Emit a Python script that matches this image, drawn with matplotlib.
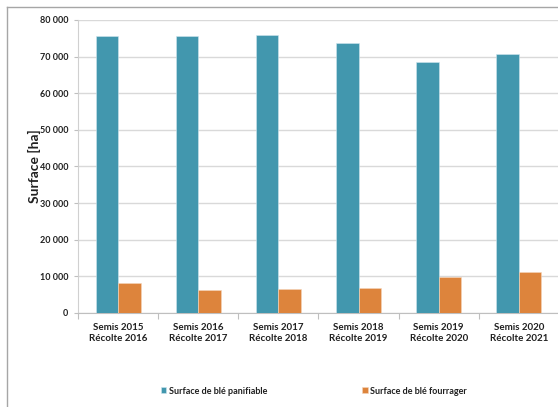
import matplotlib
matplotlib.use("Agg")
import matplotlib.pyplot as plt
from matplotlib.lines import Line2D
from matplotlib.ticker import FuncFormatter, MultipleLocator, FixedLocator
import numpy as np

categories = ["Semis 2015\nRécolte 2016", "Semis 2016\nRécolte 2017", "Semis 2017\nRécolte 2018",
              "Semis 2018\nRécolte 2019", "Semis 2019\nRécolte 2020", "Semis 2020\nRécolte 2021"]
panifiable = [75500, 75700, 76000, 73700, 68600, 70800]
fourrager = [8300, 6400, 6600, 6700, 9700, 11100]
series_names = ["Surface de blé panifiable", "Surface de blé fourrager"]
ylabel = "Surface [ha]"

plt.rcParams['font.family'] = ['Lato', 'DejaVu Sans']

W, H = 558, 407
fig = plt.figure(figsize=(W / 100, H / 100), dpi=100)
ax = fig.add_axes([78 / W, 1 - 313 / H, 481 / W, (313 - 20) / H])

x = np.arange(len(categories))
bw = 0.28
blue = "#4297AE"
orange = "#DD843C"
ax.bar(x - bw / 2, panifiable, bw, color=blue, edgecolor="#cfe6ee", linewidth=0.4, label=series_names[0], zorder=3)
ax.bar(x + bw / 2, fourrager, bw, color=orange, edgecolor="#f5d6bc", linewidth=0.4, label=series_names[1], zorder=3)

ax.set_xlim(-0.5, len(categories) - 0.5)
ax.set_ylim(0, 80000)
ax.yaxis.set_major_locator(MultipleLocator(10000))
ax.yaxis.set_major_formatter(FuncFormatter(lambda v, p: f"{int(v):,}".replace(",", " ")))
ax.grid(axis="y", color="#d9d9d9", linewidth=1, zorder=0)

ax.set_xticks(x)
ax.set_xticklabels(categories, fontsize=7, fontweight="bold", color="#202020", linespacing=1.35)
ax.xaxis.set_minor_locator(FixedLocator(np.arange(-0.5, len(categories), 1.0)))
ax.tick_params(axis="x", which="major", length=0, pad=7)
ax.tick_params(axis="x", which="minor", length=4, color="#bfbfbf", width=0.8)
ax.tick_params(axis="y", length=3, color="#bfbfbf", width=0.8, labelsize=6.5, labelcolor="#202020", pad=4)
for lab in ax.get_yticklabels():
    lab.set_fontweight("bold")

for side in ["top", "right"]:
    ax.spines[side].set_visible(False)
ax.spines["left"].set_color("#d0d0d0")
ax.spines["bottom"].set_color("#bfbfbf")

fig.text(34 / W, 1 - 166 / H, ylabel, rotation=90, ha="center", va="center",
         fontsize=10, fontweight="bold", color="#202020")

leg = fig.legend(loc="center", bbox_to_anchor=(314 / W, 1 - 391 / H), ncol=2, frameon=False,
                 handlelength=0.6, handleheight=0.6, handletextpad=0.3,
                 columnspacing=10.5, prop={"weight": "bold", "size": 6.5})
for t in leg.get_texts():
    t.set_color("#202020")

# outer frame
fig.add_artist(Line2D([6.5 / W, 6.5 / W], [0, 1 - 6.5 / H], transform=fig.transFigure, color="#a6a6a6", lw=1))
fig.add_artist(Line2D([6.5 / W, 1], [1 - 6.5 / H, 1 - 6.5 / H], transform=fig.transFigure, color="#a6a6a6", lw=1))

fig.savefig("out.png", dpi=100)
